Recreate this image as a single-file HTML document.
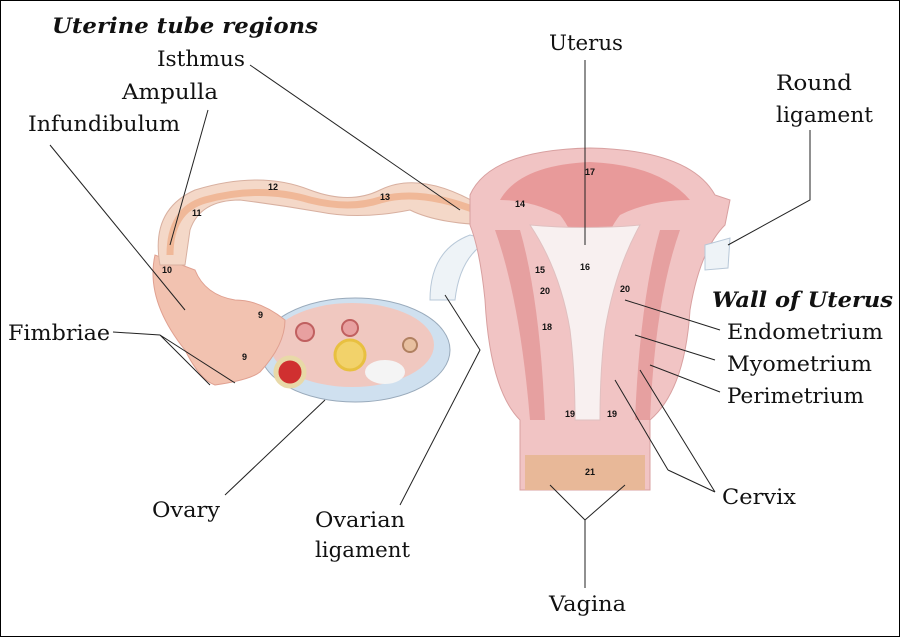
<!DOCTYPE html>
<html><head><meta charset="utf-8"><style>
html,body{margin:0;padding:0;background:#fff}
svg{display:block}
text{font-family:"DejaVu Serif","Liberation Serif",serif;font-size:21px;fill:#111}
.b{font-weight:bold;font-style:italic}
.n{font-family:"Liberation Sans",sans-serif;font-size:9px;font-weight:bold}
</style></head><body>
<svg width="900" height="637" viewBox="0 0 900 637">
<rect x="0.5" y="0.5" width="899" height="636" fill="#fff" stroke="#000"/>
<!-- ovarian ligament -->
<path d="M430,300 Q430,250 470,235 L490,240 Q460,255 455,300 Z" fill="#eef3f7" stroke="#b8c8d8"/>
<!-- ovary -->
<ellipse cx="355" cy="350" rx="95" ry="52" fill="#cfe0ef" stroke="#9ab"/>
<ellipse cx="352" cy="345" rx="82" ry="42" fill="#f0c8c0"/>
<circle cx="290" cy="372" r="14" fill="#d03030" stroke="#e8d9a8" stroke-width="5"/>
<circle cx="350" cy="355" r="15" fill="#f2d26a" stroke="#e8c040" stroke-width="3"/>
<ellipse cx="385" cy="372" rx="20" ry="12" fill="#f4f4f4"/>
<circle cx="305" cy="332" r="9" fill="#e8a0a0" stroke="#c06060" stroke-width="2"/>
<circle cx="350" cy="328" r="8" fill="#e8a0a0" stroke="#c06060" stroke-width="2"/>
<circle cx="410" cy="345" r="7" fill="#e8c0a0" stroke="#b08060" stroke-width="2"/>
<!-- fimbriae / infundibulum -->
<path d="M155,255 Q145,300 185,350 Q200,380 215,385 Q250,380 260,372 Q285,345 285,320 Q260,300 235,300 Q205,295 195,270 Z" fill="#f2c2b0" stroke="#e0a090"/>
<!-- uterine tube -->
<path d="M160,265 Q150,210 195,190 Q260,170 310,190 Q350,205 380,190 Q420,170 480,205 L500,205 L500,225 Q440,225 410,210 Q360,220 320,212 Q280,205 240,200 Q200,200 190,230 L185,265 Z" fill="#f4d8c8" stroke="#d8b0a0"/>
<path d="M170,255 Q170,210 205,200 Q260,185 310,200 Q350,210 380,200 Q420,188 480,212" fill="none" stroke="#f0b898" stroke-width="7"/>
<!-- uterus body -->
<path d="M470,195 Q490,150 590,148 Q690,150 715,195 L730,200 L725,225 Q700,250 690,310 Q685,390 650,420 L650,490 L520,490 L520,420 Q490,390 485,300 Q480,250 470,225 Z" fill="#f1c4c4" stroke="#d8a0a0"/>
<path d="M500,200 Q520,165 590,162 Q660,165 690,200 Q650,200 620,215 Q600,240 590,300 Q580,240 560,215 Q530,200 500,200 Z" fill="#e89a9a"/>
<path d="M530,225 Q585,230 640,225 Q615,270 605,330 Q600,370 600,420 L575,420 Q575,370 570,330 Q560,270 530,225 Z" fill="#f8f0f0" stroke="#e0c0c0"/>
<path d="M495,230 Q520,300 530,420 L545,420 Q540,300 520,230 Z" fill="#e08888" opacity=".6"/>
<path d="M680,230 Q655,300 650,420 L635,420 Q640,300 660,230 Z" fill="#e08888" opacity=".6"/>
<rect x="525" y="455" width="120" height="35" fill="#e8b898"/>
<path d="M705,245 L730,238 L728,268 L705,270 Z" fill="#eef3f7" stroke="#b8c8d8"/>
<!-- numbers -->
<g><text class="n" x="585" y="175">17</text><text class="n" x="580" y="270">16</text><text class="n" x="535" y="273">15</text><text class="n" x="540" y="294">20</text><text class="n" x="620" y="292">20</text><text class="n" x="542" y="330">18</text><text class="n" x="565" y="417">19</text><text class="n" x="607" y="417">19</text><text class="n" x="585" y="475">21</text><text class="n" x="268" y="190">12</text><text class="n" x="380" y="200">13</text><text class="n" x="515" y="207">14</text><text class="n" x="192" y="216">11</text><text class="n" x="162" y="273">10</text><text class="n" x="258" y="318">9</text><text class="n" x="242" y="360">9</text></g>
<!-- leader lines -->
<g stroke="#222" stroke-width="1" fill="none">
<path d="M250,65 L460,210"/><path d="M208,110 L170,245"/><path d="M50,145 L185,310"/>
<path d="M113,332 L160,335 L210,385 M160,335 L235,383"/>
<path d="M225,495 L325,400"/><path d="M400,505 L480,350 L445,295"/>
<path d="M585,60 L585,245"/><path d="M810,130 L810,200 L728,245"/>
<path d="M720,330 L625,300"/><path d="M715,360 L635,335"/><path d="M720,392 L650,365"/>
<path d="M668,470 L715,492 M615,380 L668,470 M715,492 L640,370"/>
<path d="M585,588 L585,520 L550,485 M585,520 L625,485"/>
</g>
<!-- labels -->
<g>
<text class="b" x="52" y="33" textLength="266" lengthAdjust="spacingAndGlyphs">Uterine tube regions</text>
<text x="157" y="66" textLength="88" lengthAdjust="spacingAndGlyphs">Isthmus</text>
<text x="122" y="99" textLength="96" lengthAdjust="spacingAndGlyphs">Ampulla</text>
<text x="28" y="131" textLength="152" lengthAdjust="spacingAndGlyphs">Infundibulum</text>
<text x="8" y="340" textLength="102" lengthAdjust="spacingAndGlyphs">Fimbriae</text>
<text x="152" y="517" textLength="68" lengthAdjust="spacingAndGlyphs">Ovary</text>
<text x="315" y="527" textLength="90" lengthAdjust="spacingAndGlyphs">Ovarian</text>
<text x="315" y="557" textLength="95" lengthAdjust="spacingAndGlyphs">ligament</text>
<text x="549" y="50" textLength="74" lengthAdjust="spacingAndGlyphs">Uterus</text>
<text x="776" y="90" textLength="76" lengthAdjust="spacingAndGlyphs">Round</text>
<text x="776" y="122" textLength="97" lengthAdjust="spacingAndGlyphs">ligament</text>
<text class="b" x="712" y="307" textLength="181" lengthAdjust="spacingAndGlyphs">Wall of Uterus</text>
<text x="727" y="339" textLength="156" lengthAdjust="spacingAndGlyphs">Endometrium</text>
<text x="727" y="371" textLength="145" lengthAdjust="spacingAndGlyphs">Myometrium</text>
<text x="727" y="403" textLength="137" lengthAdjust="spacingAndGlyphs">Perimetrium</text>
<text x="722" y="504" textLength="74" lengthAdjust="spacingAndGlyphs">Cervix</text>
<text x="549" y="611" textLength="77" lengthAdjust="spacingAndGlyphs">Vagina</text>
</g>
</svg>
</body></html>
